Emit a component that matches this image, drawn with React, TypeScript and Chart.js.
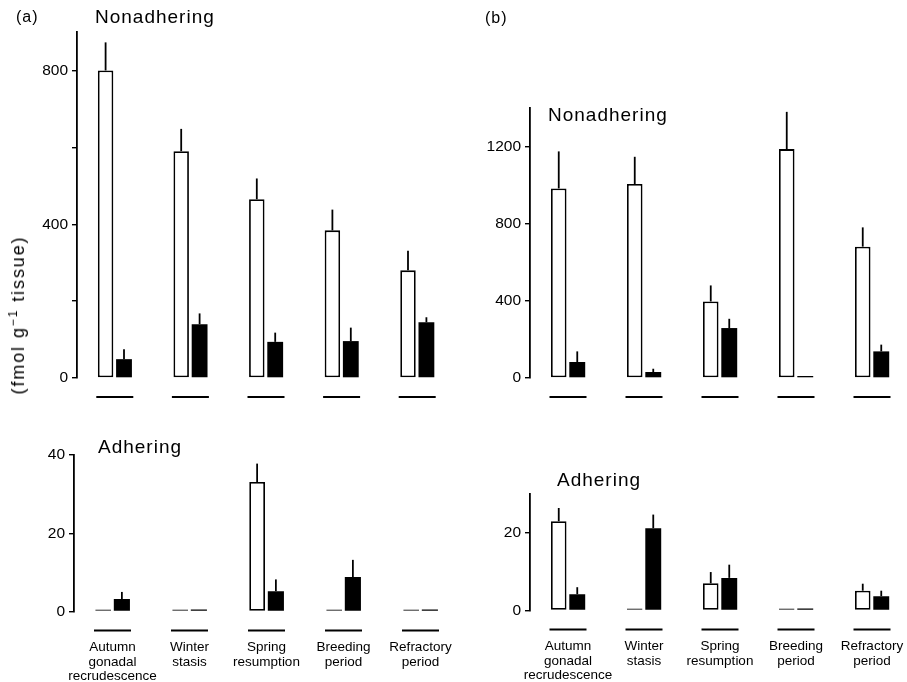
import React, { useEffect, useRef } from 'react';
import { Chart, registerables } from 'chart.js';

Chart.register(...registerables);

// ---- data ----
const periodLabels = [
  ['Autumn', 'gonadal', 'recrudescence'],
  ['Winter', 'stasis'],
  ['Spring', 'resumption'],
  ['Breeding', 'period'],
  ['Refractory', 'period'],
];

// (a) Nonadhering
const aNonWhite = [800, 590, 465, 384, 280];
const aNonWhiteSE = [73, 58, 54, 54, 51];
const aNonBlack = [49, 140, 94, 96, 145];
const aNonBlackSE = [26, 28, 24, 35, 13];
const aNonTicks = [0, 200, 400, 600, 800];
const aNonTickLabels = [0, 400, 800];

// (b) Nonadhering
const bNonWhite = [983, 1006, 397, 1187, 681];
const bNonWhiteSE = [192, 141, 83, 193, 100];
const bNonBlack = [83, 31, 259, 0, 138];
const bNonBlackSE = [55, 17, 48, 0, 35];
const bNonTicks = [0, 400, 800, 1200];
const bNonTickLabels = [0, 400, 800, 1200];

// (a) Adhering
const aAdhWhite = [0, 0, 33.1, 0, 0];
const aAdhWhiteSE = [0, 0, 4.7, 0, 0];
const aAdhBlack = [3.2, 0, 5.2, 8.8, 0];
const aAdhBlackSE = [1.8, 0, 3.0, 4.4, 0];
const aAdhTicks = [0, 20, 40];
const aAdhTickLabels = [0, 20, 40];

// (b) Adhering
const bAdhWhite = [23.0, 0, 7.0, 0, 5.1];
const bAdhWhiteSE = [3.4, 0, 2.9, 0, 1.8];
const bAdhBlack = [4.2, 21.2, 8.4, 0, 3.7];
const bAdhBlackSE = [1.8, 3.5, 3.4, 0, 1.4];
const bAdhTicks = [0, 20];
const bAdhTickLabels = [0, 20];

const FONT = "'Liberation Sans', Arial, Helvetica, sans-serif";
const INK = '#000';

const errorBarsPlugin = {
  id: 'errorBars',
  afterDatasetsDraw(chart: any) {
    const ctx = chart.ctx;
    const yScale = chart.scales.y;
    ctx.save();
    ctx.strokeStyle = INK;
    ctx.lineWidth = 1.8;
    chart.data.datasets.forEach((ds: any, di: number) => {
      const meta = chart.getDatasetMeta(di);
      meta.data.forEach((bar: any, i: number) => {
        const se = ds.se ? ds.se[i] : 0;
        if (!se) return;
        const v = ds.data[i];
        const top = yScale.getPixelForValue(v + se);
        ctx.beginPath();
        ctx.moveTo(bar.x, bar.y);
        ctx.lineTo(bar.x, top);
        ctx.stroke();
      });
    });
    ctx.restore();
  },
};

const underlinePlugin = {
  id: 'groupUnderline',
  afterDraw(chart: any) {
    const ctx = chart.ctx;
    const xScale = chart.scales.x;
    const yScale = chart.scales.y;
    const y = yScale.getPixelForValue(0) + 19;
    const n = chart.data.labels.length;
    ctx.save();
    ctx.strokeStyle = INK;
    ctx.lineWidth = 1.8;
    for (let i = 0; i < n; i++) {
      const cx = xScale.getPixelForTick(i);
      ctx.beginPath();
      ctx.moveTo(cx - 18.5, y);
      ctx.lineTo(cx + 18.5, y);
      ctx.stroke();
    }
    ctx.restore();
  },
};

type PanelProps = {
  box: { left: number; top: number; width: number; height: number };
  yMax: number;
  ticks: number[];
  tickLabels: number[];
  white: number[];
  whiteSE: number[];
  black: number[];
  blackSE: number[];
  showX: boolean;
};

function Panel(p: PanelProps) {
  const ref = useRef<HTMLCanvasElement>(null);
  useEffect(() => {
    const chart = new Chart(ref.current as HTMLCanvasElement, {
      type: 'bar',
      data: {
        labels: periodLabels as any,
        datasets: [
          {
            data: p.white,
            se: p.whiteSE,
            backgroundColor: '#ffffff',
            borderColor: INK,
            borderWidth: 1.8,
            borderSkipped: false,
            minBarLength: 2,
            categoryPercentage: 0.487,
            barPercentage: 0.84,
          } as any,
          {
            data: p.black,
            se: p.blackSE,
            backgroundColor: INK,
            borderWidth: 0,
            minBarLength: 2,
            categoryPercentage: 0.487,
            barPercentage: 0.86,
          } as any,
        ],
      },
      options: {
        animation: false,
        responsive: true,
        maintainAspectRatio: false,
        layout: {
          padding: { left: 0, top: 14, right: p.showX ? 28 : 10, bottom: p.showX ? 5 : 30 },
        },
        plugins: {
          legend: { display: false },
          tooltip: { enabled: false },
          title: { display: false },
        },
        scales: {
          x: {
            display: p.showX,
            grid: { display: false, drawTicks: false },
            border: { display: false },
            ticks: {
              autoSkip: false,
              maxRotation: 0,
              minRotation: 0,
              padding: 29,
              color: INK,
              font: { family: FONT, size: 13.5, lineHeight: '14.5px' } as any,
            },
          },
          y: {
            min: 0,
            max: p.yMax,
            afterFit: (s: any) => {
              s.width = 50;
            },
            afterBuildTicks: (s: any) => {
              s.ticks = p.ticks.map((v) => ({ value: v }));
            },
            ticks: {
              callback: (v: any) => (p.tickLabels.includes(Number(v)) ? String(v) : ''),
              color: INK,
              padding: 4,
              font: { family: FONT, size: 15.5 },
            },
            grid: {
              drawOnChartArea: false,
              drawTicks: true,
              tickLength: 5,
              color: INK,
              lineWidth: 1.4,
            },
            border: { display: true, color: INK, width: 1.8 },
          },
        },
      },
      plugins: [errorBarsPlugin, underlinePlugin],
    });
    return () => chart.destroy();
  }, []);
  return (
    <div
      style={{
        position: 'absolute',
        left: p.box.left,
        top: p.box.top,
        width: p.box.width,
        height: p.box.height,
      }}
    >
      <canvas ref={ref} />
    </div>
  );
}

function Label(props: { left: number; top: number; size: number; spacing?: number; children: any }) {
  return (
    <div
      style={{
        position: 'absolute',
        left: props.left,
        top: props.top,
        fontFamily: FONT,
        fontSize: props.size,
        lineHeight: props.size + 'px',
        letterSpacing: (props.spacing ?? 0) + 'px',
        color: INK,
        whiteSpace: 'nowrap',
      }}
    >
      {props.children}
    </div>
  );
}

export default function App() {
  return (
    <div
      style={{
        position: 'absolute',
        left: 0,
        top: 0,
        width: 907,
        height: 682,
        overflow: 'hidden',
        background: '#fff',
      }}
    >
      <Panel
        box={{ left: 27, top: 18, width: 438, height: 390 }}
        yMax={900}
        ticks={aNonTicks}
        tickLabels={aNonTickLabels}
        white={aNonWhite}
        whiteSE={aNonWhiteSE}
        black={aNonBlack}
        blackSE={aNonBlackSE}
        showX={false}
      />
      <Panel
        box={{ left: 480, top: 94, width: 440, height: 314 }}
        yMax={1400}
        ticks={bNonTicks}
        tickLabels={bNonTickLabels}
        white={bNonWhite}
        whiteSE={bNonWhiteSE}
        black={bNonBlack}
        blackSE={bNonBlackSE}
        showX={false}
      />
      <Panel
        box={{ left: 24, top: 441, width: 463, height: 277 }}
        yMax={40}
        ticks={aAdhTicks}
        tickLabels={aAdhTickLabels}
        white={aAdhWhite}
        whiteSE={aAdhWhiteSE}
        black={aAdhBlack}
        blackSE={aAdhBlackSE}
        showX={true}
      />
      <Panel
        box={{ left: 480, top: 480, width: 458, height: 237 }}
        yMax={30}
        ticks={bAdhTicks}
        tickLabels={bAdhTickLabels}
        white={bAdhWhite}
        whiteSE={bAdhWhiteSE}
        black={bAdhBlack}
        blackSE={bAdhBlackSE}
        showX={true}
      />

      <Label left={16} top={9} size={16} spacing={1}>(a)</Label>
      <Label left={485} top={10} size={16} spacing={1}>(b)</Label>
      <Label left={95} top={6.6} size={19} spacing={1}>Nonadhering</Label>
      <Label left={548} top={104.6} size={19} spacing={1}>Nonadhering</Label>
      <Label left={98} top={437.2} size={19} spacing={1}>Adhering</Label>
      <Label left={557} top={469.6} size={19} spacing={1}>Adhering</Label>

      <div
        style={{
          position: 'absolute',
          left: 18,
          top: 315,
          transform: 'translate(-50%, -50%) rotate(-90deg)',
          fontFamily: FONT,
          fontSize: 18,
          lineHeight: '18px',
          letterSpacing: '1.9px',
          color: INK,
          whiteSpace: 'nowrap',
        }}
      >
        (fmol g<sup style={{ fontSize: 12, lineHeight: 0, verticalAlign: '0.55em' }}>−1</sup> tissue)
      </div>
    </div>
  );
}
